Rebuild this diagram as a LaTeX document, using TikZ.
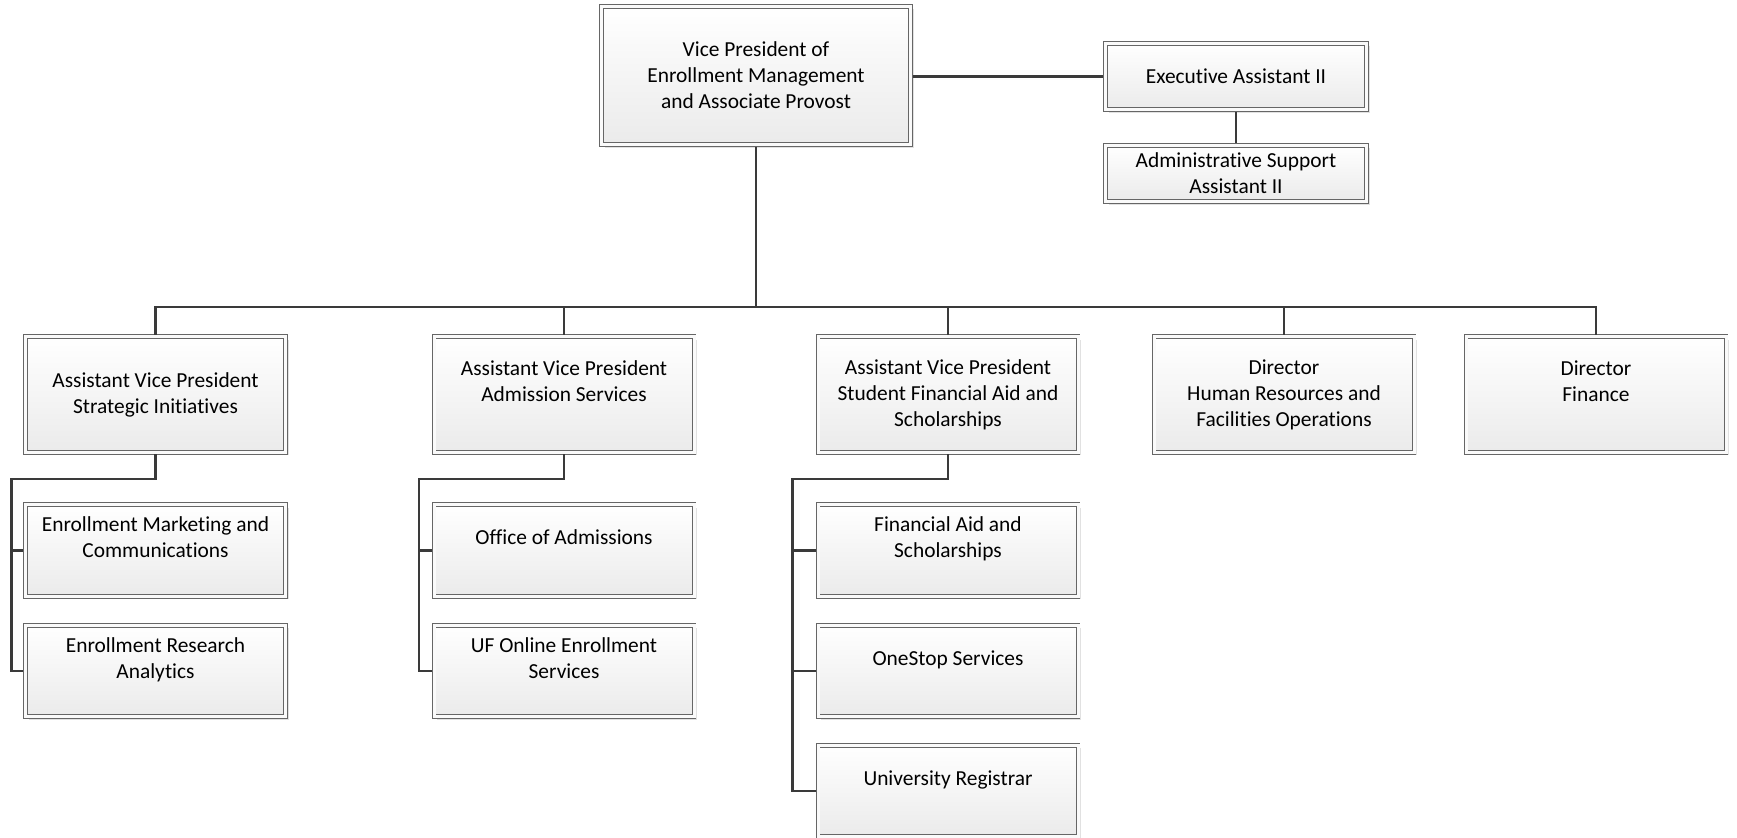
\documentclass[tikz,border=0pt]{standalone}
\usepackage{fontspec}
\setmainfont{Carlito}[Ligatures=NoCommon]
\usepackage{tikz}
\usetikzlibrary{positioning, shadows}

\definecolor{edgegray}{HTML}{666666}
\definecolor{linkgray}{HTML}{3A3A3A}

\begin{document}
\begin{tikzpicture}[
    x=0.5pt, y=-0.5pt,
    unit/.style={rectangle, draw=edgegray, line width=0.45pt, double=gray!4, double distance=1.5pt,
        top color=white, bottom color=gray!16, outer sep=1.1pt, inner sep=0pt, align=center,
        font=\fontsize{10.7}{13}\selectfont,
        drop shadow={shadow xshift=1.6pt, shadow yshift=-1.6pt, fill=gray!30, opacity=0.8}},
    head/.style={unit, minimum width=154.7pt, minimum height=69.2pt},
    assist/.style={unit, minimum width=130.5pt},
    office/.style={unit, minimum width=130pt, minimum height=57.7pt},
    team/.style={unit, minimum width=130pt, minimum height=45.7pt},
    link/.style={draw=linkgray, line width=1.45pt}
]
    \useasboundingbox (0,0) rectangle (1737,838);

    % Top level
    \node[head] (vp) at (756,75.5) {Vice President of\\Enrollment Management\\and Associate Provost};
    \node[assist, minimum height=33.2pt] (exec) at (1236,76.5) {Executive Assistant II};
    \node[assist, minimum height=28.2pt] (admin) at (1236,173.5) {Administrative Support\\Assistant II};

    % Second level
    \node[office] (si) at (155.5,394.5) {Assistant Vice President\\Strategic Initiatives};
    \node[office] (as) at (564,394.5) {Assistant Vice President\\Admission Services\\~};
    \node[office] (sfa) at (948,394.5) {Assistant Vice President\\Student Financial Aid and\\Scholarships};
    \node[office] (hr) at (1284,394.5) {Director\\Human Resources and\\Facilities Operations};
    \node[office] (fin) at (1596,394.5) {Director\\Finance\\~};

    % Third level
    \node[team] (si-a) at (155.5,550.5) {Enrollment Marketing and\\Communications\\~};
    \node[team] (si-b) at (155.5,671) {Enrollment Research\\Analytics\\~};
    \node[team] (as-a) at (564,550.5) {Office of Admissions\\~};
    \node[team] (as-b) at (564,671) {UF Online Enrollment\\Services\\~};
    \node[team] (sfa-a) at (948,550.5) {Financial Aid and\\Scholarships\\~};
    \node[team] (sfa-b) at (948,671) {OneStop Services\\~};
    \node[team] (sfa-c) at (948,791) {University Registrar\\~};

    % Bends
    \coordinate (bus) at (0,307);
    \coordinate (si-x) at (11.7,479);
    \coordinate (as-x) at (419,479);
    \coordinate (sfa-x) at (792.5,479);

    % Connectors
    \draw[link] (vp.east |- exec.west) -- (exec.west);
    \draw[link] (exec) -- (admin);
    \draw[link] (vp.south) -- (vp.south |- bus);
    \draw[link] (si.north) |- (fin.north |- bus) -- (fin.north);
    \draw[link] (as.north) -- (as.north |- bus);
    \draw[link] (sfa.north) -- (sfa.north |- bus);
    \draw[link] (hr.north) -- (hr.north |- bus);

    \draw[link] (si.south) |- (si-x) |- (si-a.west);
    \draw[link] (si-x) |- (si-b.west);
    \draw[link] (as.south) |- (as-x) |- (as-a.west);
    \draw[link] (as-x) |- (as-b.west);
    \draw[link] (sfa.south) |- (sfa-x) |- (sfa-a.west);
    \draw[link] (sfa-x) |- (sfa-b.west);
    \draw[link] (sfa-x) |- (sfa-c.west);
\end{tikzpicture}
\end{document}
